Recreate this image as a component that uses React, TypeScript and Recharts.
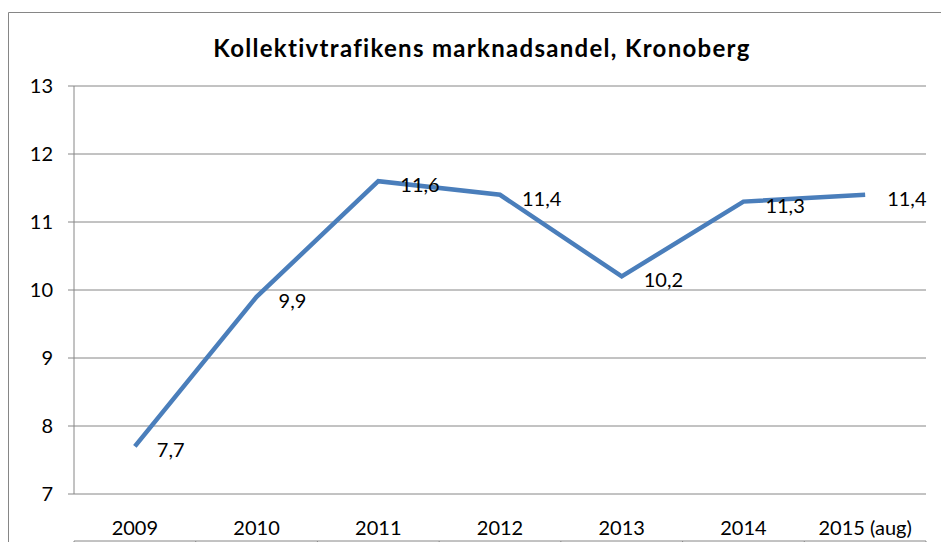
import { CartesianGrid, LabelList, Line, LineChart, XAxis, YAxis } from "recharts";

const CATEGORIES = ["2009", "2010", "2011", "2012", "2013", "2014", "2015 (aug)"];
const SHARE = [7.7, 9.9, 11.6, 11.4, 10.2, 11.3, 11.4];
const Y_TICKS = [7, 8, 9, 10, 11, 12, 13];

const data = CATEGORIES.map((label, i) => ({ x: i, label, value: SHARE[i] }));
// tick marks sit between the categories, like Excel
const boundaryTicks = [...CATEGORIES.map((_, i) => i - 0.5), CATEGORIES.length - 0.5];

const FONT = "Lato, 'Open Sans', sans-serif";
const GREY = "#868686";

const fmt = (v: number) => v.toFixed(1).replace(".", ",");

const ValueLabel = (props: any) => {
  const { x, y, value } = props;
  return (
    <text x={x + 22} y={y + 11} fontSize={20} fontFamily={FONT} fill="#000">
      {fmt(Number(value))}
    </text>
  );
};

const App = () => {
  return (
    <div style={{ position: "absolute", left: 0, top: 0, width: 941, height: 542, background: "#fff" }}>
      <LineChart
        width={941}
        height={542}
        data={data}
        margin={{ top: 86, right: 15, left: 0, bottom: 0 }}
      >
        <CartesianGrid stroke={GREY} vertical={false} />
        <XAxis
          xAxisId="main"
          dataKey="x"
          type="number"
          domain={[-0.5, CATEGORIES.length - 0.5]}
          ticks={boundaryTicks}
          tickFormatter={() => ""}
          stroke={GREY}
          tickSize={6}
          height={1}
        />
        <XAxis
          xAxisId="labels"
          dataKey="x"
          type="number"
          domain={[-0.5, CATEGORIES.length - 0.5]}
          ticks={data.map((d) => d.x)}
          tickFormatter={(v: number) => CATEGORIES[v]}
          axisLine={false}
          tickLine={false}
          tickSize={0}
          tickMargin={27}
          height={47}
          interval={0}
          tick={{ fontSize: 20, fill: "#000", fontFamily: FONT }}
        />
        <YAxis
          domain={[7, 13]}
          ticks={Y_TICKS}
          width={74}
          stroke={GREY}
          tickSize={6}
          tickMargin={15}
          interval={0}
          tick={{ fontSize: 20, fill: "#000", fontFamily: FONT }}
        />
        <Line
          xAxisId="main"
          type="linear"
          dataKey="value"
          stroke="#4a7ebb"
          strokeWidth={4.5}
          dot={false}
          activeDot={false}
          isAnimationActive={false}
        >
          <LabelList dataKey="value" content={ValueLabel} />
        </Line>
      </LineChart>
      <svg
        width={941}
        height={542}
        style={{ position: "absolute", left: 0, top: 0, pointerEvents: "none" }}
      >
        <line x1={8.5} y1={12.5} x2={941} y2={12.5} stroke={GREY} />
        <line x1={8.5} y1={12.5} x2={8.5} y2={542} stroke={GREY} />
        <text
          x={482}
          y={56.5}
          textAnchor="middle"
          fontSize={24}
          fontWeight="bold"
          letterSpacing={1.3}
          fontFamily={FONT}
          fill="#000"
        >
          Kollektivtrafikens marknadsandel, Kronoberg
        </text>
      </svg>
    </div>
  );
};

export default App;
